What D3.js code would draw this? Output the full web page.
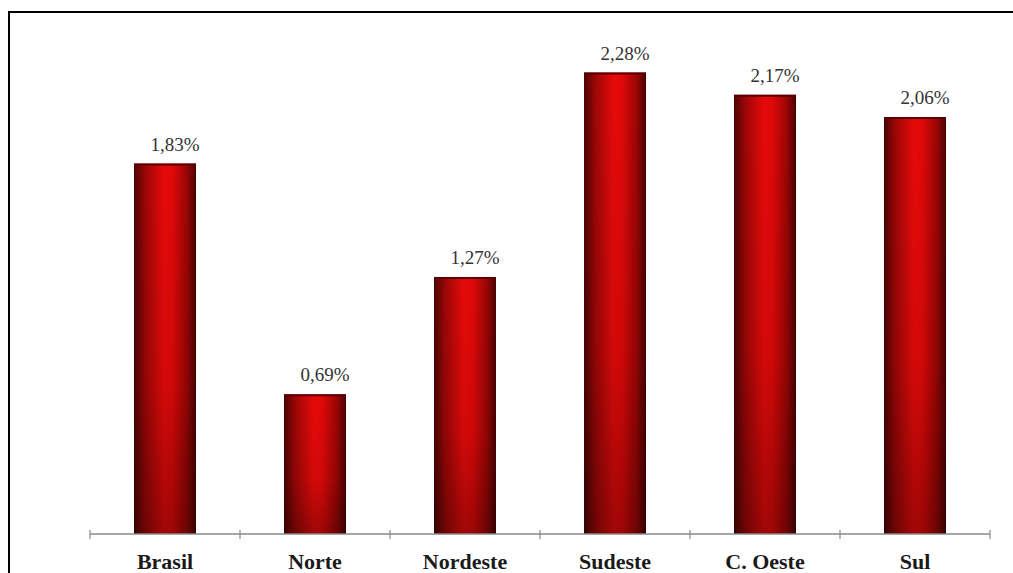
<!DOCTYPE html>
<html>
<head>
<meta charset="utf-8">
<script src="https://cdn.jsdelivr.net/npm/d3@7"></script>
<style>
    body { margin: 0; background: #fff; }
    svg { display: block; }
    .serif { font-family: "Liberation Serif", "Times New Roman", Times, Tinos, "Noto Serif", "DejaVu Serif", FreeSerif, serif; }
</style>
</head>
<body>
<svg id="chart" width="1013" height="573"></svg>
<script>
let regions = ["Brasil", "Norte", "Nordeste", "Sudeste", "C. Oeste", "Sul"];
let rates = [1.83, 0.69, 1.27, 2.28, 2.17, 2.06];
let rateLabels = ["1,83%", "0,69%", "1,27%", "2,28%", "2,17%", "2,06%"];

let svg = d3.select("#chart");

// frame (right and bottom edges fall outside the picture)
svg.append("rect")
    .attr("x", 9)
    .attr("y", 12)
    .attr("width", 1020)
    .attr("height", 600)
    .attr("fill", "none")
    .attr("stroke", "#000")
    .attr("stroke-width", 2);

let baseline = 534;
let xScale = d3.scaleBand().domain(regions).range([90, 990]).padding(0);
let yScale = d3.scaleLinear().domain([0, 2.5]).range([baseline, 28]);
let barWidth = 62;

let defs = svg.append("defs");
let grad = defs.append("linearGradient")
    .attr("id", "barGrad")
    .attr("x1", "0%").attr("x2", "100%")
    .attr("y1", "0%").attr("y2", "0%");
grad.append("stop").attr("offset", "0%").attr("stop-color", "#4a0404");
grad.append("stop").attr("offset", "18%").attr("stop-color", "#9c0606");
grad.append("stop").attr("offset", "48%").attr("stop-color", "#e60a0a");
grad.append("stop").attr("offset", "62%").attr("stop-color", "#e00808");
grad.append("stop").attr("offset", "85%").attr("stop-color", "#9a0505");
grad.append("stop").attr("offset", "100%").attr("stop-color", "#4a0303");

let shade = defs.append("linearGradient")
    .attr("id", "barShade")
    .attr("x1", "0%").attr("x2", "0%")
    .attr("y1", "0%").attr("y2", "100%");
shade.append("stop").attr("offset", "0%").attr("stop-color", "#000").attr("stop-opacity", 0);
shade.append("stop").attr("offset", "60%").attr("stop-color", "#000").attr("stop-opacity", 0.08);
shade.append("stop").attr("offset", "100%").attr("stop-color", "#000").attr("stop-opacity", 0.3);

let data = regions.map(function (r, i) { return { region: r, value: rates[i], label: rateLabels[i] }; });

function barX(d) { return xScale(d.region) + xScale.bandwidth() / 2 - barWidth / 2; }

let bars = svg.append("g");
bars.selectAll(".bar")
    .data(data)
    .enter().append("rect")
    .attr("class", "bar")
    .attr("x", barX)
    .attr("y", function (d) { return yScale(d.value); })
    .attr("width", barWidth)
    .attr("height", function (d) { return baseline - yScale(d.value); })
    .attr("fill", "url(#barGrad)");

bars.selectAll(".shade")
    .data(data)
    .enter().append("rect")
    .attr("class", "shade")
    .attr("x", barX)
    .attr("y", function (d) { return yScale(d.value); })
    .attr("width", barWidth)
    .attr("height", function (d) { return baseline - yScale(d.value); })
    .attr("fill", "url(#barShade)");

// darker top edge of each bar
bars.selectAll(".cap")
    .data(data)
    .enter().append("line")
    .attr("class", "cap")
    .attr("x1", barX)
    .attr("x2", function (d) { return barX(d) + barWidth; })
    .attr("y1", function (d) { return yScale(d.value) + 1; })
    .attr("y2", function (d) { return yScale(d.value) + 1; })
    .attr("stroke", "#5a0000")
    .attr("stroke-width", 2);

// value labels
svg.append("g").selectAll("text")
    .data(data)
    .enter().append("text")
    .attr("class", "serif")
    .attr("x", function (d) { return xScale(d.region) + xScale.bandwidth() / 2 + 10; })
    .attr("y", function (d) { return yScale(d.value) - 13; })
    .attr("text-anchor", "middle")
    .style("font-size", "19px")
    .attr("fill", "#333")
    .text(function (d) { return d.label; });

// x axis
let xAxis = d3.axisBottom(xScale).tickSize(0).tickPadding(19);
let gAxis = svg.append("g")
    .attr("transform", "translate(0," + baseline + ")")
    .call(xAxis)
    .attr("font-family", null);
gAxis.select(".domain")
    .attr("d", "M90,0H990")
    .attr("stroke", "#8a8a8a")
    .attr("stroke-width", 1.5);
gAxis.selectAll("text")
    .attr("class", "serif")
    .style("font-size", "22px")
    .style("font-weight", "bold")
    .attr("fill", "#1a1a1a");

// boundary ticks between categories
let edges = regions.map(function (r) { return xScale(r); }).concat([xScale.range()[1]]);
gAxis.selectAll(".edge")
    .data(edges)
    .enter().append("line")
    .attr("class", "edge")
    .attr("x1", function (d) { return d; })
    .attr("x2", function (d) { return d; })
    .attr("y1", -4)
    .attr("y2", 5)
    .attr("stroke", "#8a8a8a")
    .attr("stroke-width", 1.2);
</script>
</body>
</html>
